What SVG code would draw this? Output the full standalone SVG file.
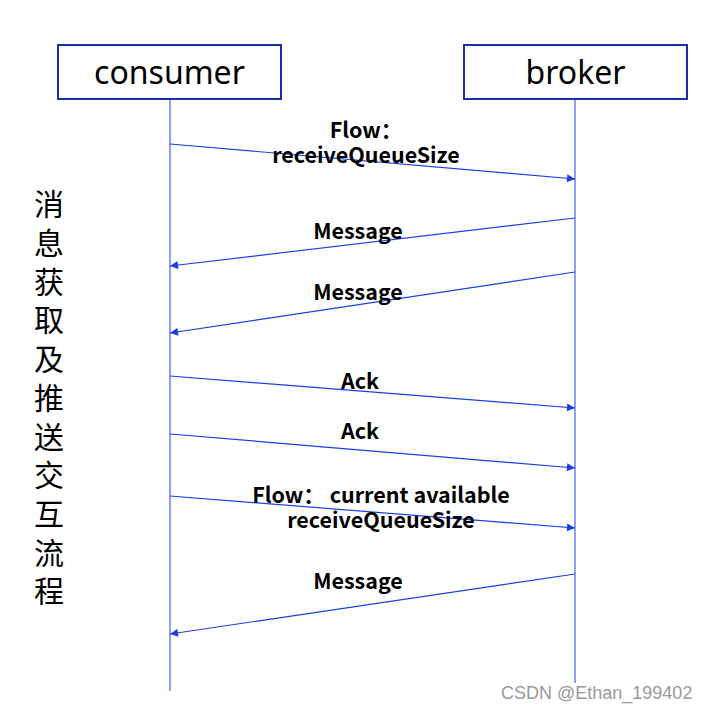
<svg xmlns="http://www.w3.org/2000/svg" width="710" height="712" viewBox="0 0 710 712">
<style>
.box{fill:#fff;stroke:#1a2ea8;stroke-width:2}
.title{font-family:"Noto Sans","Open Sans","Liberation Sans",sans-serif;font-size:32px;fill:#000;text-anchor:middle}
.life{stroke:#4d6ef5;stroke-width:1.3;fill:none}
.msg{stroke:#1c3ee6;stroke-width:1.2;fill:none;marker-end:url(#ah)}
.lbl{font-family:"Noto Sans CJK SC","Open Sans","Liberation Sans",sans-serif;font-weight:bold;font-size:21.5px;fill:#000;text-anchor:middle}
.side{font-family:"Noto Sans CJK SC",sans-serif;font-size:30px;fill:#000;writing-mode:vertical-rl;letter-spacing:8.7px}
.wm{font-family:"Liberation Sans",sans-serif;font-size:18px;fill:#999}
</style>
<defs>
<marker id="ah" viewBox="0 0 10 10" refX="10" refY="5" markerWidth="10" markerHeight="8" markerUnits="userSpaceOnUse" orient="auto">
<path d="M0,0 L10,5 L0,10 z" fill="#1c3ee6"/>
</marker>
</defs>
<rect width="710" height="712" fill="#fff"/>
<g id="lifelines">
<line class="life" x1="170" y1="99" x2="170" y2="691"/>
<line class="life" x1="575" y1="99" x2="575" y2="683"/>
</g>
<g id="consumer">
<rect class="box" x="58" y="45" width="223" height="54"/>
<text class="title" x="169.5" y="84">consumer</text>
</g>
<g id="broker">
<rect class="box" x="464" y="45" width="223" height="54"/>
<text class="title" x="575.5" y="84">broker</text>
</g>
<g id="connectors">
<line class="msg" x1="170" y1="144" x2="575" y2="179"/>
<line class="msg" x1="575" y1="218" x2="170" y2="266"/>
<line class="msg" x1="575" y1="272" x2="170" y2="333"/>
<line class="msg" x1="170" y1="376" x2="575" y2="408"/>
<line class="msg" x1="170" y1="434" x2="575" y2="468"/>
<line class="msg" x1="170" y1="496" x2="575" y2="528"/>
<line class="msg" x1="575" y1="574" x2="170" y2="634"/>
</g>
<g id="labels">
<text class="lbl" y="138"><tspan x="366">Flow：</tspan><tspan x="366" y="163">receiveQueueSize</tspan></text>
<text class="lbl" x="358" y="239">Message</text>
<text class="lbl" x="358" y="300">Message</text>
<text class="lbl" x="360" y="389">Ack</text>
<text class="lbl" x="360" y="439">Ack</text>
<text class="lbl" y="503"><tspan x="381">Flow：  current available</tspan><tspan x="381" y="528">receiveQueueSize</tspan></text>
<text class="lbl" x="358" y="589">Message</text>
</g>
<g id="side">
<text class="side" x="49" y="189">消息获取及推送交互流程</text>
</g>
<text class="wm" x="501" y="699">CSDN @Ethan_199402</text>
</svg>
